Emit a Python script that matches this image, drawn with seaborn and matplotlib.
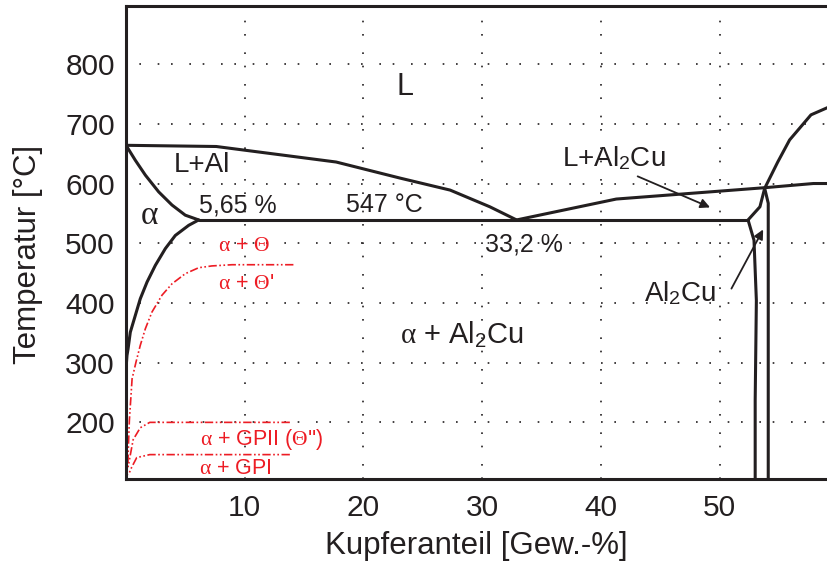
import matplotlib
matplotlib.use("Agg")
import matplotlib.pyplot as plt
import seaborn as sns

# Al-Cu Zustandsdiagramm (Al-reiche Seite)

# Liquidus Al-Seite bis Eutektikum
liq_al_x = [0, 7.6, 17.7, 23.1, 27.3, 30.65, 32.9]
liq_al_t = [664, 662, 636, 609, 589, 561, 539]

# Solidus alpha
sol_x = [0, 0.78, 1.63, 2.75, 3.87, 4.99, 6.12]
sol_t = [664, 639, 614, 586, 564, 547, 539]

# Solvus alpha
solv_x = [6.12, 5.28, 4.15, 3.31, 2.47, 1.77, 1.20, 0.78, 0.36, 0.17, 0.08, 0.0]
solv_t = [539, 530, 513, 491, 463, 435, 407, 379, 351, 323, 312, 290]

# Eutektische Gerade
eut_x = [6.12, 52.4]
eut_t = [539, 539]

# Liquidus Al2Cu-Seite
liq_cu_x = [32.9, 41.3, 53.8, 57.9, 60.0]
liq_cu_t = [539, 574, 593, 600, 600]

# Phasengrenzen Al2Cu
al2cu_l_x = [53.8, 53.4, 52.4, 52.9, 53.1, 53.0, 53.0]
al2cu_l_t = [592, 561, 539, 505, 404, 237, 100]
al2cu_r_x = [53.8, 54.1, 54.1, 54.1]
al2cu_r_t = [592, 567, 540, 100]

# Liquidus rechts oben
top_x = [53.8, 54.9, 55.9, 57.7, 60.0]
top_t = [592, 636, 673, 715, 735]

# metastabile Solvuslinien (rot)
th_x = [14.1, 8.93, 7.24, 6.12, 4.99, 3.87, 3.03, 2.19, 1.63, 1.20, 0.84, 0.51, 0.28, 0.2, 0.15]
th_t = [464, 464, 462, 459, 449, 432, 413, 385, 357, 329, 301, 273, 203, 160, 125]
gp2_x = [13.8, 2.0, 1.2, 0.6, 0.17]
gp2_t = [200, 200, 191, 171, 125]
gp1_x = [13.8, 2.0, 0.9, 0.48, 0.2]
gp1_t = [146, 146, 141, 125, 112]

x_ticks = [10, 20, 30, 40, 50]
y_ticks = [200, 300, 400, 500, 600, 700, 800]

sns.set_style("white")
plt.rcParams["font.family"] = ["Liberation Sans", "DejaVu Sans"]
plt.rcParams["mathtext.fontset"] = "custom"
plt.rcParams["mathtext.rm"] = "Liberation Serif"
plt.rcParams["mathtext.it"] = "Liberation Serif"
plt.rcParams["mathtext.sf"] = "Liberation Sans"

fig, ax = plt.subplots(figsize=(8.27, 5.61), dpi=100)
fig.subplots_adjust(left=0.1524, right=1.0, bottom=0.146, top=0.989)

black = "#231f20"
red = "#ed1c24"

for xs, ts in [(liq_al_x, liq_al_t), (sol_x, sol_t), (solv_x, solv_t),
               (eut_x, eut_t), (liq_cu_x, liq_cu_t), (al2cu_l_x, al2cu_l_t),
               (al2cu_r_x, al2cu_r_t), (top_x, top_t)]:
    sns.lineplot(x=xs, y=ts, sort=False, estimator=None, ax=ax,
                 color=black, lw=2.2, solid_joinstyle="round")

for xs, ts in [(th_x, th_t), (gp2_x, gp2_t), (gp1_x, gp1_t)]:
    sns.lineplot(x=xs, y=ts, sort=False, estimator=None, ax=ax,
                 color=red, lw=1.2, linestyle=(0, (5, 1.5, 1, 1.5, 1, 1.5)))

ax.set_xlim(0, 59.05)
ax.set_ylim(105, 897)
ax.set_xticks(x_ticks)
ax.set_yticks(y_ticks)
ax.grid(True, color=black, lw=1.2, linestyle=(0, (1, 7, 1, 10)))
ax.tick_params(axis="x", direction="in", length=4, width=1, pad=11,
               labelsize=21.5, colors=black)
ax.tick_params(axis="y", length=0, pad=8, labelsize=21.5, colors=black)
for s in ["left", "top", "bottom"]:
    ax.spines[s].set_linewidth(2.2)
    ax.spines[s].set_color(black)
ax.spines["right"].set_visible(False)

ax.set_xlabel("Kupferanteil [Gew.-%]", fontsize=22.5, color=black, labelpad=6)
ax.set_ylabel("Temperatur [°C]", fontsize=22.5, color=black)
ax.yaxis.set_label_coords(-0.118, 0.474)

kw = dict(ha="center", va="center", color=black, fontsize=20)
ax.text(23.5, 762, "L", **dict(kw, fontsize=22))
ax.text(6.4, 631, "L+Al", **kw)
ax.text(2.0, 547, r"$\alpha$", **dict(kw, fontsize=24))
ax.text(9.4, 564, "5,65 %", **dict(kw, fontsize=18))
ax.text(21.8, 564, "547 °C", **dict(kw, fontsize=18))
ax.text(33.5, 498, "33,2 %", **dict(kw, fontsize=18))
ax.text(41.1, 642, r"L+Al$_\mathsf{2}$Cu", **kw)
ax.text(46.7, 417, r"Al$_\mathsf{2}$Cu", **kw)
ax.text(28.3, 347, r"$\alpha$ + Al$_\mathsf{2}$Cu", **dict(kw, fontsize=21))

rkw = dict(ha="center", va="center", color=red, fontsize=15.5)
ax.text(9.95, 497, r"$\alpha$ + $\Theta$", **rkw)
ax.text(10.1, 433, r"$\alpha$ + $\Theta$'", **rkw)
ax.text(11.4, 171, r"$\alpha$ + GPII ($\Theta$'')", **rkw)
ax.text(9.25, 122, r"$\alpha$ + GPI", **rkw)

ap = dict(arrowstyle="-|>", color=black, lw=1.3, mutation_scale=14,
          shrinkA=0, shrinkB=0)
ax.annotate("", xy=(49.2, 560), xytext=(43.1, 612), arrowprops=ap)
ax.annotate("", xy=(53.67, 523), xytext=(51.0, 424), arrowprops=ap)

fig.savefig("out.png", dpi=100)
